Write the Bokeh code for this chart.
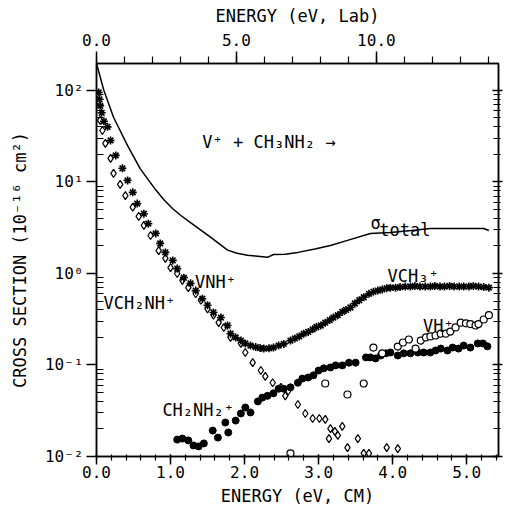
from bokeh.plotting import figure
from bokeh.models import (Range1d, LinearAxis, LogAxis, FixedTicker,
                          CustomJSTickFormatter, PrintfTickFormatter)
from bokeh.embed import file_html
from bokeh.resources import INLINE
from bokeh.core.properties import value

# ---------------- data ----------------
# total cross section (solid line)
E_tot = [0.00, 0.10, 0.23, 0.42, 0.59, 0.69, 0.80, 0.91, 1.03, 1.14, 1.27, 1.54,
         1.77, 1.90, 2.04, 2.18, 2.31, 2.39, 2.55, 2.72, 2.95, 3.16, 3.39, 3.70,
         3.97, 4.25, 4.51, 4.96, 5.23, 5.30]
S_tot = [197, 100, 51, 25, 14, 10.8, 8.2, 6.4, 5.1, 4.3, 3.6, 2.5,
         1.80, 1.66, 1.58, 1.54, 1.50, 1.61, 1.62, 1.70, 1.85, 2.02, 2.30, 2.74,
         2.81, 2.95, 3.10, 3.10, 3.10, 2.95]

# VNH+ / VCH3+ (asterisks)
E_star = [0.03, 0.04, 0.05, 0.07, 0.10, 0.15, 0.19, 0.26, 0.35, 0.42, 0.49, 0.55,
          0.64, 0.70, 0.80, 0.86, 0.93, 1.03, 1.09, 1.18, 1.27, 1.34, 1.43, 1.50,
          1.58, 1.68, 1.77, 1.81, 1.88, 1.95, 2.01, 2.08, 2.15, 2.21, 2.26, 2.33,
          2.39, 2.46, 2.53, 2.62, 2.68, 2.74, 2.80, 2.86, 2.92, 2.97, 3.03, 3.09,
          3.15, 3.20, 3.26, 3.32, 3.37, 3.43, 3.49, 3.55, 3.61, 3.68, 3.74, 3.80,
          3.86, 3.92, 3.97, 4.04, 4.10, 4.17, 4.24, 4.30, 4.37, 4.44, 4.51, 4.57,
          4.64, 4.70, 4.77, 4.83, 4.90, 4.96, 5.03, 5.09, 5.16, 5.23, 5.30]
S_star = [95, 80, 68, 57, 46, 40, 28.4, 19.5, 14.1, 10.4, 7.7, 5.8,
          4.5, 3.5, 2.74, 2.13, 1.70, 1.39, 1.13, 0.90, 0.78, 0.65, 0.53, 0.45,
          0.375, 0.33, 0.27, 0.22, 0.20, 0.185, 0.172, 0.163, 0.157, 0.153, 0.151, 0.152,
          0.155, 0.163, 0.170, 0.185, 0.195, 0.205, 0.22, 0.23, 0.245, 0.26, 0.27, 0.29,
          0.31, 0.33, 0.35, 0.38, 0.40, 0.425, 0.47, 0.51, 0.55, 0.60, 0.63, 0.65,
          0.67, 0.69, 0.70, 0.70, 0.71, 0.72, 0.72, 0.73, 0.72, 0.72, 0.72, 0.73,
          0.72, 0.72, 0.73, 0.72, 0.72, 0.72, 0.72, 0.73, 0.72, 0.71, 0.70]

# VCH2NH+ (open diamonds)
E_dia = [0.05, 0.08, 0.12, 0.19, 0.23, 0.32, 0.39, 0.49, 0.57, 0.64, 0.73, 0.84,
         0.93, 1.00, 1.09, 1.16, 1.24, 1.34, 1.41, 1.50, 1.58, 1.65, 1.72, 1.81,
         1.95, 2.01, 2.11, 2.22, 2.28, 2.38, 2.49, 2.55, 2.59, 2.72, 2.82, 2.92,
         3.01, 3.09, 3.14, 3.16, 3.22, 3.26, 3.32, 3.39, 3.53, 3.61, 3.68, 3.92, 4.07]
S_dia = [47, 36.5, 26.4, 18.1, 12.4, 9.4, 7.1, 5.3, 4.2, 3.35, 2.6, 1.78,
         1.46, 1.16, 1.0, 0.84, 0.70, 0.60, 0.51, 0.41, 0.35, 0.29, 0.257, 0.20,
         0.172, 0.137, 0.106, 0.087, 0.075, 0.064, 0.057, 0.046, 0.052, 0.037, 0.0295, 0.026,
         0.026, 0.0255, 0.0157, 0.0202, 0.0188, 0.017, 0.0213, 0.0125, 0.0157, 0.0108, 0.0108,
         0.0125, 0.0122]

# CH2NH2+ (filled circles)
E_fc = [1.09, 1.16, 1.24, 1.31, 1.38, 1.45, 1.57, 1.64, 1.74, 1.78, 1.88, 1.95,
        2.01, 2.08, 2.18, 2.24, 2.31, 2.39, 2.46, 2.53, 2.62, 2.72, 2.78, 2.86,
        2.93, 3.00, 3.07, 3.16, 3.23, 3.32, 3.41, 3.50, 3.64, 3.70, 3.77, 3.84,
        3.91, 3.97, 4.07, 4.15, 4.24, 4.34, 4.42, 4.51, 4.58, 4.65, 4.74, 4.81,
        4.89, 4.96, 5.05, 5.15, 5.22, 5.28]
S_fc = [0.0153, 0.0157, 0.0150, 0.0132, 0.0129, 0.0139, 0.0192, 0.0161, 0.0235, 0.0183,
        0.0247, 0.0295, 0.0343, 0.0303, 0.040, 0.044, 0.046, 0.049, 0.055, 0.055,
        0.057, 0.064, 0.071, 0.073, 0.077, 0.087, 0.092, 0.094, 0.099, 0.099,
        0.106, 0.106, 0.121, 0.121, 0.118, 0.127, 0.134, 0.137, 0.127, 0.134,
        0.134, 0.137, 0.137, 0.137, 0.144, 0.151, 0.144, 0.155, 0.151, 0.163,
        0.155, 0.172, 0.172, 0.160]

# VH+ (open circles)
E_oc = [2.62, 3.09, 3.39, 3.61, 3.74, 3.86, 4.07, 4.14, 4.22, 4.31, 4.38, 4.45,
        4.51, 4.58, 4.65, 4.72, 4.78, 4.85, 4.92, 4.99, 5.05, 5.12, 5.16, 5.23, 5.30]
S_oc = [0.0108, 0.0628, 0.0476, 0.0628, 0.155, 0.134, 0.159, 0.176, 0.19, 0.151,
        0.185, 0.20, 0.205, 0.21, 0.22, 0.22, 0.232, 0.257, 0.29, 0.285, 0.28,
        0.27, 0.28, 0.314, 0.35]

# axis ticks / conversion (V = 51 u, CH3NH2 = 31 u)
M_ION, M_TGT = 51.0, 31.0
X_MAX = 5.43
Y_MIN, Y_MAX = 0.01, 197
cm_ticks = [0, 1, 2, 3, 4, 5]
lab_ticks = [0, 5, 10]
log_ticks = [0.01, 0.1, 1, 10, 100]

FONT = "DejaVu Sans Mono"

p = figure(width=508, height=508, y_axis_type="log",
           x_range=Range1d(0, X_MAX), y_range=Range1d(Y_MIN, Y_MAX),
           output_backend="svg", toolbar_location=None,
           min_border_left=96, min_border_right=10,
           min_border_top=63, min_border_bottom=52)
p.xgrid.visible = False
p.ygrid.visible = False
p.outline_line_color = "black"
p.outline_line_width = 1.5
p.background_fill_color = "white"
p.border_fill_color = "white"

minor_log = [k * 10.0 ** e for e in range(-2, 3) for k in range(2, 10)]

def style_axis(ax, tick_out, tick_in, mtick_out, mtick_in, standoff):
    ax.axis_line_width = 1.5
    ax.axis_line_color = "black"
    ax.major_tick_line_width = 1.5
    ax.minor_tick_line_width = 1.2
    ax.major_tick_out = tick_out
    ax.major_tick_in = tick_in
    ax.minor_tick_out = mtick_out
    ax.minor_tick_in = mtick_in
    ax.major_label_standoff = standoff
    ax.major_label_text_font = FONT
    ax.major_label_text_font_size = "16px"
    ax.major_label_text_color = "black"
    ax.axis_label_text_font = FONT
    ax.axis_label_text_font_size = "17px"
    ax.axis_label_text_font_style = "normal"
    ax.axis_label_text_color = "black"

# bottom axis (CM)
xb = p.xaxis[0]
xb.ticker = FixedTicker(ticks=cm_ticks, minor_ticks=[i * 0.2 for i in range(28)])
xb.formatter = PrintfTickFormatter(format="%.1f")
xb.axis_label = "ENERGY (eV, CM)"
style_axis(xb, 8, 2, 4, 2, 1)
xb.axis_label_standoff = 5

# left axis
sup = CustomJSTickFormatter(code="""
const e = Math.round(Math.log10(tick));
const m = {"-":"\u207b","0":"\u2070","1":"\u00b9","2":"\u00b2","3":"\u00b3"};
return "10" + String(e).split("").map(c => m[c]).join("");
""")
yl = p.yaxis[0]
yl.ticker = FixedTicker(ticks=log_ticks, minor_ticks=minor_log)
yl.formatter = sup
yl.axis_label = "CROSS SECTION (10\u207b\u00b9\u2076 cm\u00b2)"
style_axis(yl, 10, 0, 0, 7, 3)
yl.axis_label_standoff = 12

# top axis (Lab)
lab_max = X_MAX * (M_ION + M_TGT) / M_TGT
p.extra_x_ranges = {"lab": Range1d(0, lab_max)}
xt = LinearAxis(x_range_name="lab",
                ticker=FixedTicker(ticks=lab_ticks, minor_ticks=list(range(0, 15))),
                formatter=PrintfTickFormatter(format="%.1f"),
                axis_label="ENERGY (eV, Lab)")
style_axis(xt, 12, 0, 7, 0, 6)
xt.axis_label_standoff = 5
p.add_layout(xt, "above")

# right axis (ticks only)
yr = LogAxis(ticker=FixedTicker(ticks=log_ticks, minor_ticks=minor_log),
             formatter=CustomJSTickFormatter(code="return '';"))
style_axis(yr, 4, 6, 2, 5, 0)
p.add_layout(yr, "right")

# ---------------- marks ----------------
p.line(E_tot, S_tot, line_color="black", line_width=1.5)
p.scatter(E_dia, S_dia, marker="diamond", size=8, fill_color="white",
          line_color="black", line_width=1.2)
p.scatter(E_star, S_star, marker="asterisk", size=8, line_color="black",
          line_width=1.6)
p.scatter(E_fc, S_fc, marker="circle", size=7, fill_color="black",
          line_color="black")
p.scatter(E_oc, S_oc, marker="circle", size=7, fill_color="white",
          line_color="black", line_width=1.2)

# ---------------- annotations ----------------
labels = [
    ("V\u207a + CH\u2083NH\u2082 \u2192", 1.43, 27.5),
    ("\u03c3", 3.70, 3.52),
    ("total", 3.82, 2.95),
    ("VCH\u2083\u207a", 3.93, 0.95),
    ("VNH\u207a", 1.33, 0.80),
    ("VCH\u2082NH\u207a", 0.095, 0.47),
    ("VH\u207a", 4.41, 0.27),
    ("CH\u2082NH\u2082\u207a", 0.89, 0.032),
]
p.text(x=[l[1] for l in labels], y=[l[2] for l in labels],
       text=[l[0] for l in labels], text_font=value(FONT),
       text_font_size="17px", text_color="black",
       text_align="left", text_baseline="alphabetic")

open("out.html", "w", encoding="utf-8").write(file_html(p, INLINE))
